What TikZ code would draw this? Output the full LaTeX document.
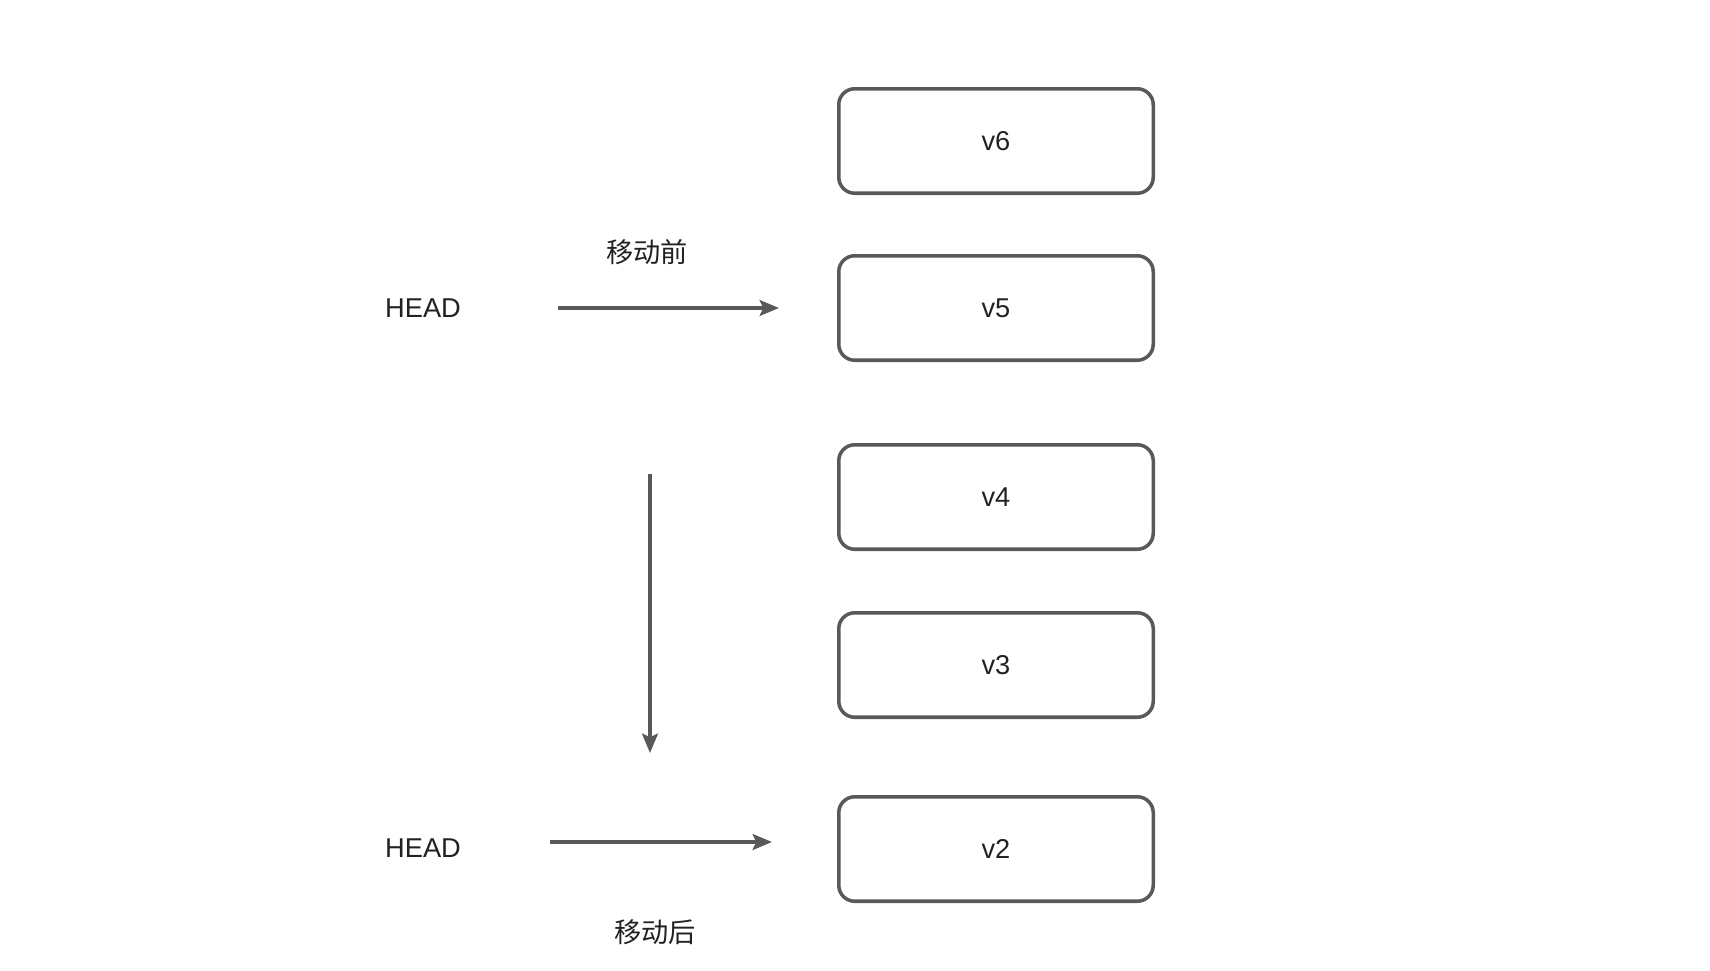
\documentclass[tikz,border=0pt]{standalone}
\usepackage{fontspec}
\setmainfont{Liberation Sans}
\newfontfamily\cjk{Noto Sans CJK SC}
\usetikzlibrary{arrows.meta}
\definecolor{lc}{HTML}{595959}
\definecolor{tc}{HTML}{222222}
\begin{document}
\begin{tikzpicture}[x=0.02cm,y=-0.02cm,
  vbox/.style={draw=lc,line width=2pt,rounded corners=0.32cm,minimum width=318*0.02cm-2pt,minimum height=108*0.02cm-2pt,text=tc,font=\fontsize{15.5}{18}\selectfont},
  lbl/.style={text=tc,font=\fontsize{15.5}{18}\selectfont},
  cl/.style={text=tc,font=\cjk\fontsize{15.5}{18}\selectfont},
  arr/.style={draw=lc,line width=2pt,-{Stealth[length=11pt,width=9pt,inset=2pt]}}]
\useasboundingbox[fill=white] (0,0) rectangle (1710,970);
\node[vbox] (v6) at (996,141) {v6};
\node[vbox] (v5) at (996,308) {v5};
\node[vbox] (v4) at (996,497) {v4};
\node[vbox] (v3) at (996,665) {v3};
\node[vbox] (v2) at (996,849) {v2};
\node[lbl] (h1) at (423,308) {HEAD};
\node[lbl] (h2) at (423,848) {HEAD};
\node[cl] (before) at (647,252) {移动前};
\node[cl] (after) at (655,932) {移动后};
\coordinate (a1s) at (558,308);
\coordinate (a1e) at (779,308);
\coordinate (a2s) at (550,842);
\coordinate (a2e) at (772,842);
\coordinate (a3s) at (650,474);
\coordinate (a3e) at (650,753);
\draw[arr] (a1s) -- (a1e);
\draw[arr] (a2s) -- (a2e);
\draw[arr] (a3s) -- (a3e);
\end{tikzpicture}
\end{document}
